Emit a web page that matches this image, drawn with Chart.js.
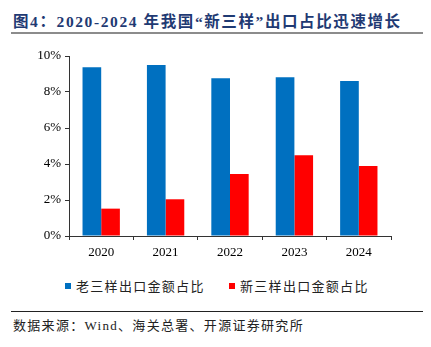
<!DOCTYPE html>
<html lang="zh">
<head>
  <meta charset="UTF-8">
  <title>新三样出口占比</title>
  <style>
    body { margin: 0; width: 431px; height: 347px; background: #fff; position: relative; overflow: hidden; }
    .title { position: absolute; left: 13px; top: 9px; font: bold 15.5px "Liberation Serif", "Noto Sans CJK SC", serif; color: #1f3a73; white-space: nowrap; letter-spacing: 1.6px; }
    .rule1 { position: absolute; left: 11px; top: 32px; width: 412px; height: 2px; background: #8c8c8c; }
    .chart { position: absolute; left: 0; top: 40px; width: 431px; height: 226px; }
    .legend { position: absolute; top: 276px; left: 0; width: 431px; font: 13px "Noto Sans CJK SC", sans-serif; color: #222; letter-spacing: 1.3px; }
    .legend span { position: absolute; white-space: nowrap; }
    .legend i { display: inline-block; width: 6px; height: 6px; margin-right: 5px; vertical-align: 2px; }
    .rule2 { position: absolute; left: 11px; top: 311px; width: 412px; height: 1px; background: #222; }
    .source { position: absolute; left: 13px; top: 315px; font: 13px "Liberation Serif", "Noto Sans CJK SC", serif; color: #222; letter-spacing: 1.3px; white-space: nowrap; }
  </style>
</head>
<body>
  <div class="title">图4：2020-2024 年我国“新三样”出口占比迅速增长</div>
  <div class="rule1"></div>
  <div class="chart"><canvas id="myChart" width="431" height="226"></canvas></div>
  <div class="legend" id="legend"></div>
  <div class="rule2"></div>
  <div class="source">数据来源：Wind、海关总署、开源证券研究所</div>

  <script src="https://cdn.jsdelivr.net/npm/chart.js"></script>
  <script>
    const years = ['2020', '2021', '2022', '2023', '2024'];
    const oldThree = [9.37, 9.50, 8.76, 8.82, 8.61];
    const newThree = [1.52, 2.04, 3.44, 4.48, 3.89];
    const seriesNames = ['老三样出口金额占比', '新三样出口金额占比'];
    const seriesColors = ['#0070c0', '#ff0000'];

    const axisColor = '#333';
    const tickFont = { family: '"Liberation Serif", serif', size: 13 };

    const ctx = document.getElementById('myChart');
    const myChart = new Chart(ctx, {
      type: 'bar',
      data: {
        labels: years,
        datasets: [
          { label: seriesNames[0], data: oldThree, backgroundColor: seriesColors[0] },
          { label: seriesNames[1], data: newThree, backgroundColor: seriesColors[1] }
        ]
      },
      options: {
        responsive: false,
        animation: false,
        categoryPercentage: 0.58,
        barPercentage: 1.0,
        layout: { padding: { left: 0, right: 40, top: 16, bottom: 0 } },
        plugins: { legend: { display: false }, tooltip: { enabled: false } },
        scales: {
          x: {
            grid: { drawOnChartArea: false, drawTicks: true, tickLength: 4, color: axisColor },
            border: { color: axisColor, width: 1 },
            ticks: { color: '#000', font: tickFont, padding: 5 },
            afterFit: s => { s.height = 30; }
          },
          y: {
            min: 0,
            max: 10,
            grid: { drawOnChartArea: false, drawTicks: true, tickLength: 4, color: axisColor },
            border: { color: axisColor, width: 1 },
            ticks: { stepSize: 2, color: '#000', font: tickFont, padding: 4, callback: v => v + '%' },
            afterFit: s => { s.width = 69; }
          }
        }
      }
    });

    // legend built from the dataset colours
    const legend = document.getElementById('legend');
    const legendLeft = [65, 229];
    seriesNames.forEach((name, i) => {
      const el = document.createElement('span');
      el.style.left = legendLeft[i] + 'px';
      el.innerHTML = '<i style="background:' + seriesColors[i] + '"></i>' + name;
      legend.appendChild(el);
    });
  </script>
</body>
</html>
